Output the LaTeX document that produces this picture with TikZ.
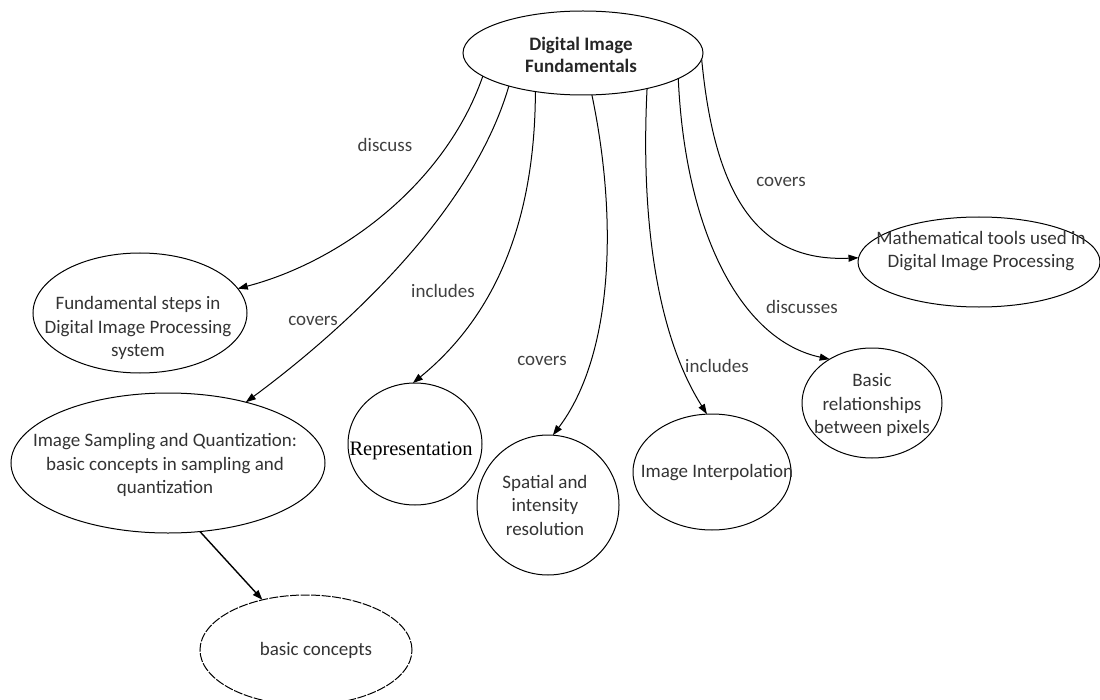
\documentclass[tikz,border=0pt]{standalone}
\usepackage{fontspec}
\setmainfont{Carlito}
\newfontfamily\reprfont{Liberation Serif}
\usetikzlibrary{shapes.geometric,arrows.meta}
\begin{document}
\begin{tikzpicture}[x=1bp,y=-1bp,
  bubble/.style={draw, ellipse, line width=1bp, inner sep=0pt, outer sep=0pt},
  txt/.style={align=center, inner sep=0pt, font=\fontsize{19bp}{23.5bp}\selectfont, text=black!80},
  boldtxt/.style={align=center, inner sep=0pt, font=\bfseries\fontsize{19bp}{22bp}\selectfont, text=black!85},
  lbl/.style={anchor=base, inner sep=0pt, font=\fontsize{19bp}{23bp}\selectfont, text=black!75},
  link/.style={line width=1bp, -{Triangle[length=10bp,width=7bp]}},
]
\useasboundingbox (0,0) rectangle (1100,700);
\clip (0,0) rectangle (1100,700);

% central topic
\node[bubble, minimum width=240bp, minimum height=84bp] (top) at (583,53) {};
\node[boldtxt] (top-t) at (581,55) {Digital Image\\Fundamentals};

% sub-topics
\node[bubble, minimum width=214bp, minimum height=120bp] (fund) at (140,313) {};
\node[txt] (fund-t) at (138,328) {Fundamental steps in\\Digital Image Processing\\system};

\node[bubble, minimum width=314bp, minimum height=140bp] (samp) at (168,463) {};
\node[txt] (samp-t) at (165,465) {Image Sampling and Quantization:\\basic concepts in sampling and\\quantization};

\node[bubble, dash pattern=on 9bp off 1.5bp, minimum width=212bp, minimum height=110bp] (basic) at (306,650) {};
\node[txt, anchor=base] (basic-t) at (316,655) {basic concepts};

\node[bubble, minimum width=134bp, minimum height=122bp] (repr) at (415,444) {};
\node[anchor=base, inner sep=0pt, font=\reprfont\fontsize{20.5bp}{24bp}\selectfont] (repr-t) at (411,455) {Representation};

\node[bubble, minimum width=142bp, minimum height=140bp] (spat) at (548,505) {};
\node[txt] (spat-t) at (545,505) {Spatial and\\intensity\\resolution};

\node[bubble, minimum width=158bp, minimum height=116bp] (interp) at (712,472) {};
\node[txt, anchor=base] (interp-t) at (717,477) {Image Interpolation};

\node[bubble, minimum width=140bp, minimum height=110bp] (rel) at (872,403) {};
\node[txt] (rel-t) at (872,405) {Basic\\relationships\\between pixels};

\node[bubble, minimum width=242bp, minimum height=90bp] (math) at (979,262) {};
\node[txt] (math-t) at (981,251) {Mathematical tools used in\\Digital Image Processing};

% connectors
\draw[link] (top.193) .. controls (445,185) and (340,262) .. (fund.14);
\draw[link] (top.204) .. controls (470,220) and (330,340) .. (samp.38);
\draw[link] (top.219) .. controls (535,230) and (490,320) .. (repr.92);
\draw[link] (top.282) .. controls (620,230) and (610,360) .. (spat.86);
\draw[link] (top.331) .. controls (640,230) and (660,340) .. (interp.95);
\draw[link] (top.345) .. controls (685,230) and (740,340) .. (rel.134);
\draw[link] (top.357) .. controls (715,200) and (760,262) .. (math.178);
\draw[link, line width=1.4bp] (samp.295) -- (basic.131);

% connector labels
\node[lbl] (l-discuss) at (385,152) {discuss};
\node[lbl] (l-covers1) at (313,325) {covers};
\node[lbl] (l-incl1) at (443,297) {includes};
\node[lbl] (l-covers2) at (542,365) {covers};
\node[lbl] (l-incl2) at (717,372) {includes};
\node[lbl] (l-discusses) at (802,313) {discusses};
\node[lbl] (l-covers3) at (781,187) {covers};
\end{tikzpicture}
\end{document}
